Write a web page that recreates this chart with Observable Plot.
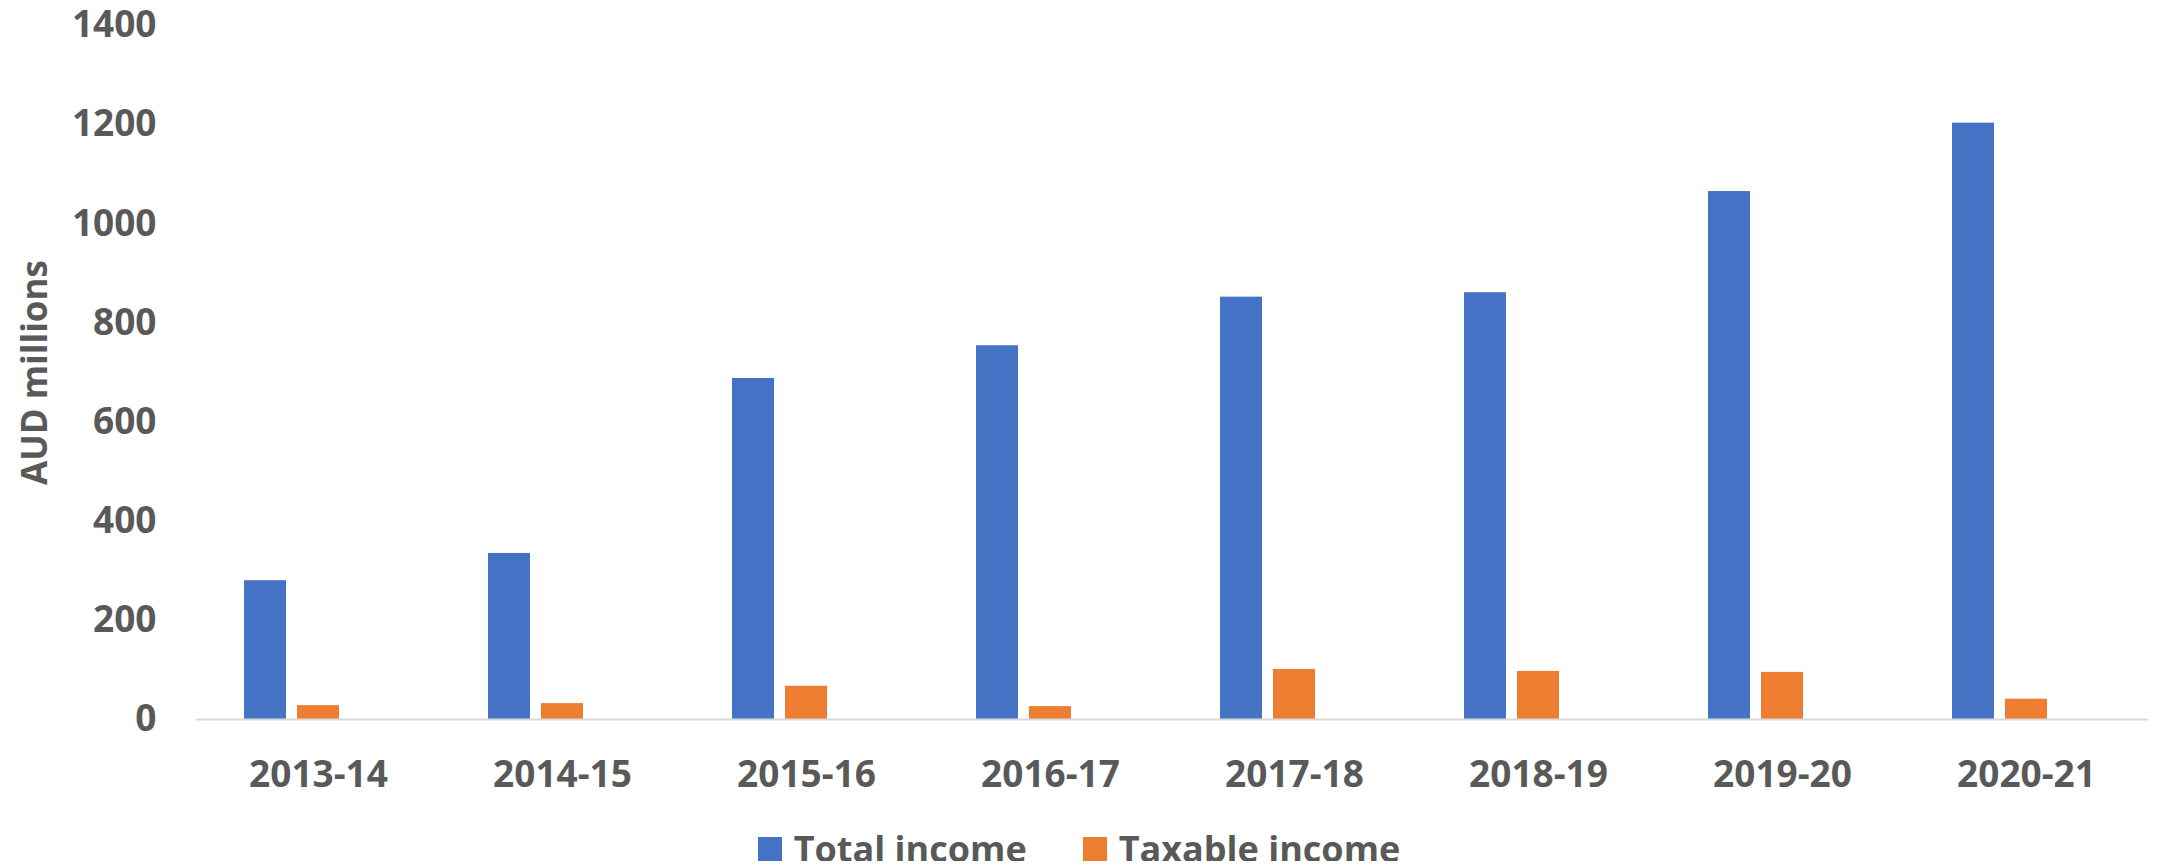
<!DOCTYPE html>
<html>
<head>
<meta charset="utf-8">
<script src="https://cdn.jsdelivr.net/npm/d3@7"></script>
<script src="https://cdn.jsdelivr.net/npm/@observablehq/plot@0.6"></script>
<style>
  html, body { margin: 0; padding: 0; background: #fff; overflow: hidden; }
  #chart { width: 2158px; height: 800px; }
  g[aria-label="y-axis label"] text {
    font-family: "Open Sans", Lato, sans-serif;
    font-size: 35px;
    font-weight: bold;
  }
  .legend {
    display: flex; justify-content: center; align-items: center;
    margin-top: 37px; height: 24px; line-height: 24px;
    font-family: "Open Sans", Lato, sans-serif; font-weight: bold;
    font-size: 36px; color: #595959;
  }
  .legend .item { display: flex; align-items: center; margin: 0 28px; }
  .legend .sw { width: 24px; height: 24px; margin-right: 12px; }
</style>
</head>
<body>
<div id="chart"></div>
<script>
const years = ["2013-14", "2014-15", "2015-16", "2016-17", "2017-18", "2018-19", "2019-20", "2020-21"];
const totalIncome = [280, 335, 688, 754, 852, 861, 1065, 1203];
const taxableIncome = [28, 32, 67, 26, 101, 97, 95, 41];
const seriesNames = ["Total income", "Taxable income"];
const seriesColors = ["#4472C4", "#ED7D31"];
const yTicks = [0, 200, 400, 600, 800, 1000, 1200, 1400];

const rows = years.flatMap((yr, i) => [
  {year: yr, series: seriesNames[0], value: totalIncome[i]},
  {year: yr, series: seriesNames[1], value: taxableIncome[i]}
]);

const axisFont = {fontSize: 37, fontFamily: '"Open Sans", Lato, sans-serif', fontWeight: "bold", fill: "#595959"};

const plot = Plot.plot({
  width: 2158,
  height: 800,
  marginLeft: 192,
  marginRight: 7,
  marginTop: 25,
  marginBottom: 81,
  style: {background: "#fff", color: "#595959"},
  fx: {domain: years, padding: 0},
  x: {domain: [...seriesNames, "(none)"], paddingInner: 0.2037, paddingOuter: 0.87, axis: null},
  y: {domain: [0, 1400]},
  color: {domain: seriesNames, range: seriesColors},
  marks: [
    Plot.barY(rows, {fx: "year", x: "series", y: "value", fill: "series"}),
    Plot.ruleY([0], {stroke: "#D9D9D9", strokeWidth: 2}),
    Plot.axisY({ticks: yTicks, tickFormat: d => String(d), tickSize: 0, tickPadding: 40, label: "AUD millions", labelAnchor: "center", labelArrow: "none", labelOffset: 174, ...axisFont}),
    Plot.axisFx({anchor: "bottom", tickSize: 0, tickPadding: 41, label: null, ...axisFont})
  ]
});
document.getElementById("chart").appendChild(plot);

const legend = document.createElement("div");
legend.className = "legend";
seriesNames.forEach((name, i) => {
  const item = document.createElement("div");
  item.className = "item";
  const sw = document.createElement("div");
  sw.className = "sw";
  sw.style.background = seriesColors[i];
  const label = document.createElement("span");
  label.textContent = name;
  item.appendChild(sw);
  item.appendChild(label);
  legend.appendChild(item);
});
document.body.appendChild(legend);
</script>
</body>
</html>
